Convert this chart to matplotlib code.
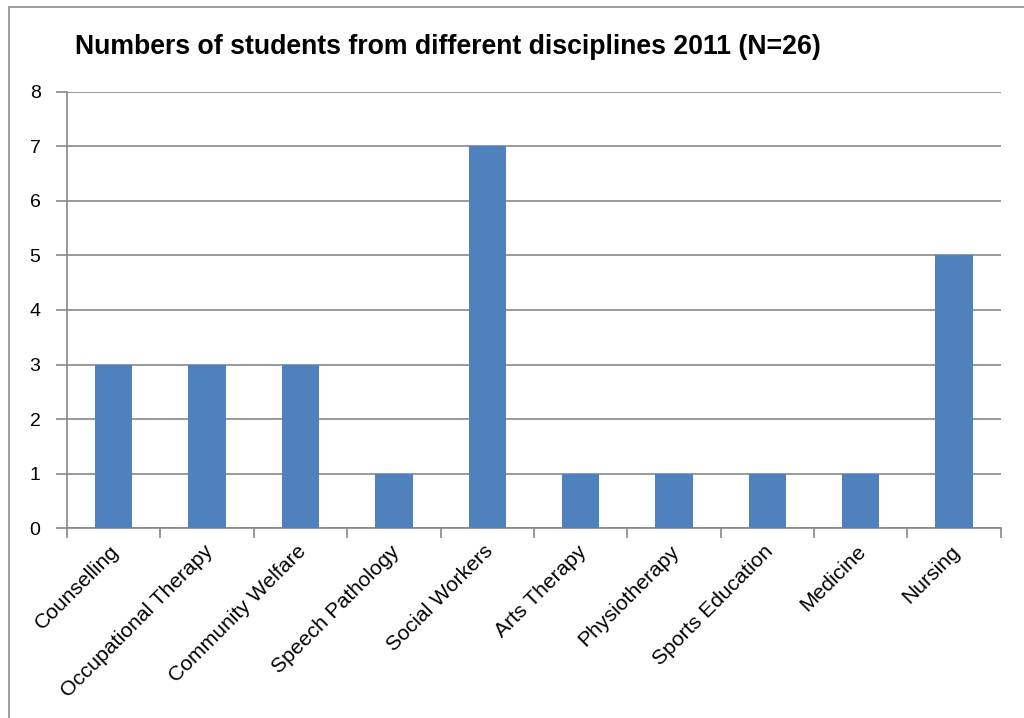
import numpy as np
import matplotlib.pyplot as plt
import matplotlib.transforms as mtransforms
from matplotlib.patches import Rectangle

plt.rcParams['font.family'] = ['Liberation Sans', 'DejaVu Sans']

disciplines = ['Counselling', 'Occupational Therapy', 'Community Welfare',
               'Speech Pathology', 'Social Workers', 'Arts Therapy',
               'Physiotherapy', 'Sports Education', 'Medicine', 'Nursing']
students = [3, 3, 3, 1, 7, 1, 1, 1, 1, 5]

fig = plt.figure(figsize=(10.24, 7.18), dpi=100)
ax = fig.add_axes([0.0654, 0.2646, 0.912, 0.6073])

# outer chart border
fig.patches.append(Rectangle((9 / 1024, -0.01), 1.02, 1 - 7 / 718 + 0.01,
                             transform=fig.transFigure, fill=False,
                             edgecolor='#8c8c8c', linewidth=1.2))

grey = '#888888'
index = np.arange(len(disciplines))
ax.bar(index, students, 0.4, color='#4f81bd', zorder=3)

ax.set_xlim(-0.5, len(disciplines) - 0.5)
ax.set_ylim(0, 8)
ax.set_yticks(range(9))
ax.yaxis.grid(True, color=grey, linewidth=1.2, zorder=0)

ax.set_xticks(index)
ax.set_xticklabels(disciplines, rotation=45, ha='right', rotation_mode='anchor',
                   fontsize=15.2)
ax.tick_params(axis='x', length=0, pad=10)
shift = mtransforms.ScaledTranslation(-4 / 100, 0, fig.dpi_scale_trans)
for lbl in ax.get_xticklabels():
    lbl.set_transform(lbl.get_transform() + shift)
ax.set_xticks(np.arange(-0.5, len(disciplines)), minor=True)
ax.tick_params(axis='x', which='minor', length=7, color=grey, width=1.2)
ax.tick_params(axis='y', length=8, color=grey, width=1.2, labelsize=14, pad=11)

for side in ['top', 'right']:
    ax.spines[side].set_visible(False)
for side in ['left', 'bottom']:
    ax.spines[side].set_color(grey)
    ax.spines[side].set_linewidth(1.2)

fig.text(75 / 1024, 1 - 47 / 718, 'Numbers of students from different disciplines 2011 (N=26)',
         fontsize=19.2, fontweight='bold', va='center', ha='left')

fig.savefig('out.png', dpi=100)
